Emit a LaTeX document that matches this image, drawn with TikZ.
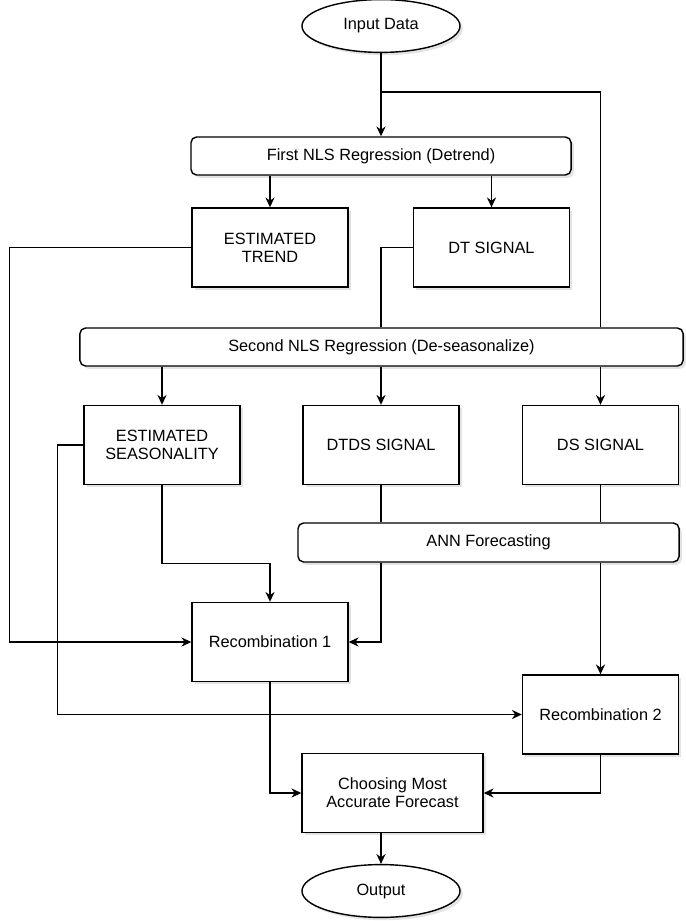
\documentclass[tikz,border=0pt]{standalone}
\usepackage{fontspec}
\setmainfont{Liberation Sans}
\usetikzlibrary{shapes.geometric,arrows.meta,shadows}

\begin{document}
\begin{tikzpicture}[x=0.025cm,y=-0.025cm,
font=\fontsize{11.6}{13}\selectfont,
line width=1pt,
>={Stealth[length=7pt,width=6.5pt]},
shade/.style={drop shadow={shadow xshift=2pt,shadow yshift=-2pt,opacity=.22}},
box/.style={draw,rectangle,fill=white,shade,inner sep=0pt,align=center,
    minimum width=3.9cm,minimum height=1.975cm},
stage/.style={draw,rectangle,rounded corners=4pt,fill=white,shade,inner sep=0pt,
    minimum height=0.95cm},
term/.style={draw,ellipse,fill=white,shade,inner sep=0pt,
    minimum width=3.95cm,minimum height=1.32cm}]
\useasboundingbox (0,0) rectangle (685,921);

% terminals
\node (input) [term] at (381,26) {Input Data};
\node (output) [term] at (381,891) {Output};

% regressions
\node (nls1) [stage,minimum width=9.5cm] at (381,156) {First NLS Regression (Detrend)};
\node (nls2) [stage,minimum width=15.075cm] at (381.5,347) {Second NLS Regression (De-seasonalize)};
\node (ann) [stage,minimum width=9.525cm,minimum height=0.975cm] at (488.5,542.5) {ANN Forecasting};

% signals
\node (trend) [box] at (270,247.5) {ESTIMATED\\TREND};
\node (dt) [box] at (491.5,247.5) {DT SIGNAL};
\node (seas) [box] at (162,445) {ESTIMATED\\SEASONALITY};
\node (dtds) [box] at (381,445) {DTDS SIGNAL};
\node (ds) [box] at (600.5,445) {DS SIGNAL};

% recombination
\node (rec1) [box] at (270,642) {Recombination 1};
\node (rec2) [box] at (600.5,714.5) {Recombination 2};
\node (choose) [box,minimum width=4.525cm] at (392.5,793) {Choosing Most\\Accurate Forecast};

\coordinate (split) at (381,92);

% connectors
\draw[->] (input) -- (nls1);
\draw (split) -| (nls2.north -| ds);
\draw[->] (nls1.south -| trend) -- (trend);
\draw[->] (nls1.south -| dt) -- (dt);
\draw (dt.west) -| (nls2.north -| input);
\draw[->] (trend.west) -- ++(-182,0) |- (rec1.west);
\draw[->] (nls2.south -| seas) -- (seas);
\draw[->] (nls2.south -| dtds) -- (dtds);
\draw[->] (nls2.south -| ds) -- (ds);
\draw (dtds) -- (ann.north -| dtds);
\draw (ds) -- (ann.north -| ds);
\draw[->] (seas.south) -- ++(0,78) -| (rec1.north);
\draw[->] (seas.west) -- ++(-26,0) |- (rec2.west);
\draw[->] (ann.south -| dtds) |- (rec1.east);
\draw[->] (ann.south -| ds) -- (rec2);
\draw[->] (rec1) |- (choose);
\draw[->] (rec2) |- (choose);
\draw[->] (choose.south -| output) -- (output);
\end{tikzpicture}
\end{document}
